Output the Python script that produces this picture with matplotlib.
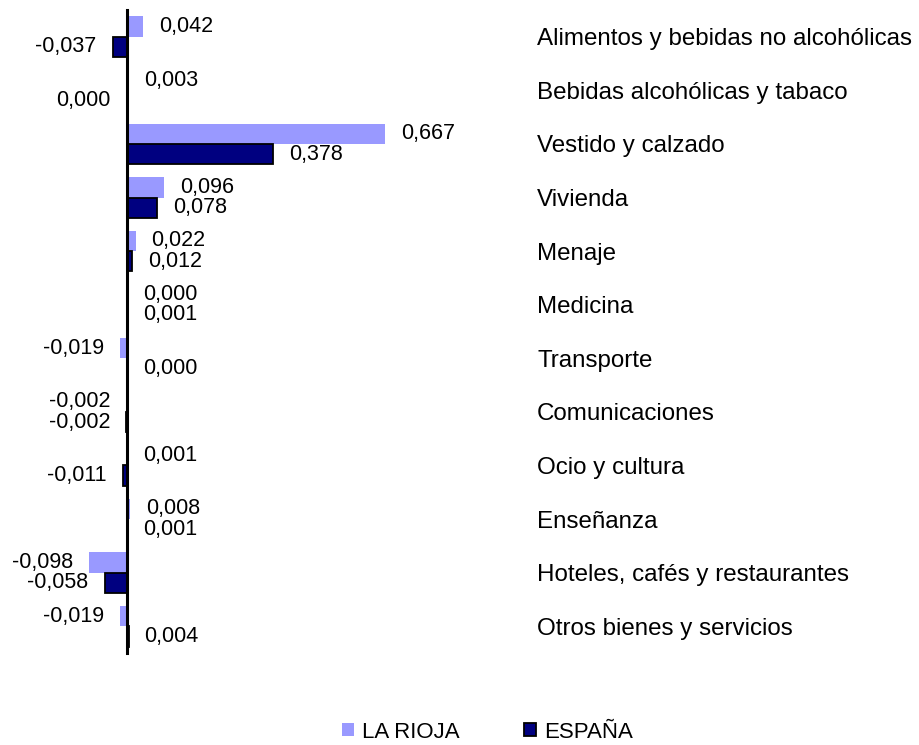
import matplotlib
matplotlib.use("Agg")
import matplotlib.pyplot as plt
from matplotlib.patches import Patch
import numpy as np

categories = ["Alimentos y bebidas no alcohólicas", "Bebidas alcohólicas y tabaco",
              "Vestido y calzado", "Vivienda", "Menaje", "Medicina", "Transporte",
              "Comunicaciones", "Ocio y cultura", "Enseñanza",
              "Hoteles, cafés y restaurantes", "Otros bienes y servicios"]
la_rioja = [0.042, 0.003, 0.667, 0.096, 0.022, 0.000, -0.019, -0.002, 0.001, 0.008, -0.098, -0.019]
espana = [-0.037, -0.0003, 0.378, 0.078, 0.012, 0.001, 0.000, -0.002, -0.011, 0.001, -0.058, 0.004]
series_names = ["LA RIOJA", "ESPAÑA"]

plt.rcParams['font.family'] = ['Liberation Sans', 'DejaVu Sans']

W, H = 920, 745
fig = plt.figure(figsize=(W / 100, H / 100), dpi=100)
x0, x1 = 10.9, 529.5
y0, y1 = 10, 653
ax = fig.add_axes([x0 / W, 1 - y1 / H, (x1 - x0) / W, (y1 - y0) / H])

c_rioja = '#9999FF'
c_esp = '#000080'
y = np.arange(len(categories))
h = 0.38
off = 0.19
ax.barh(y - off, la_rioja, height=h, color=c_rioja, edgecolor='none')
ax.barh(y + off, espana, height=h, color=c_esp, edgecolor='black', linewidth=1.3)

def fmt(v):
    r = round(v, 3) + 0.0
    return f"{r:.3f}".replace('.', ',')

pad_pt = 16 * 72 / 100
for vals, dy in ((la_rioja, -off), (espana, off)):
    for i, v in enumerate(vals):
        neg = v < 0
        ax.annotate(fmt(v), xy=(v, i + dy), xytext=(-pad_pt if neg else pad_pt, 0),
                    textcoords='offset points', ha='right' if neg else 'left',
                    va='center', fontsize=15.5, color='black')

ax.set_xlim(-0.3, 1.04)
ax.set_ylim(len(categories) - 0.5, -0.5)
ax.spines['left'].set_position(('data', 0))
ax.spines['left'].set_linewidth(2.2)
for s in ('top', 'right', 'bottom'):
    ax.spines[s].set_visible(False)
ax.set_xticks([])
ax.yaxis.tick_right()
ax.set_yticks(y)
ax.set_yticklabels(categories, fontsize=17.4)
ax.tick_params(axis='y', length=0, pad=5.5)

handles = [Patch(facecolor=c_rioja, edgecolor='none'),
           Patch(facecolor=c_esp, edgecolor='black', linewidth=1.3)]
fig.legend(handles, series_names, loc='center', bbox_to_anchor=(0.53, 1 - 732 / H),
           ncol=2, frameon=False, fontsize=16, handlelength=0.55, handleheight=0.55,
           handletextpad=0.35, columnspacing=2.9)

fig.savefig('out.png', dpi=100)
